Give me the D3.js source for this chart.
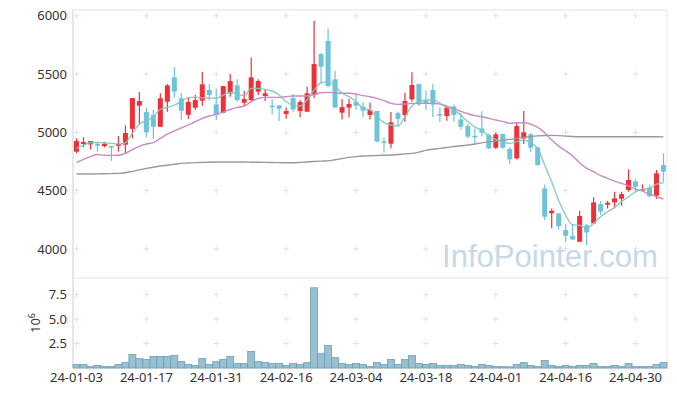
<!DOCTYPE html>
<html>
<head>
<meta charset="utf-8">
<script src="https://cdn.jsdelivr.net/npm/d3@7"></script>
<style>
body { margin: 0; background: #fff; }
svg { display: block; font-family: "Noto Sans", sans-serif; }
</style>
</head>
<body>
<div id="chart"></div>
<script>
// trading days shown on the chart
var dates = ["24-01-03","24-01-04","24-01-05","24-01-08","24-01-09","24-01-10","24-01-11","24-01-12","24-01-15","24-01-16",
  "24-01-17","24-01-18","24-01-19","24-01-22","24-01-23","24-01-24","24-01-25","24-01-26","24-01-29","24-01-30",
  "24-01-31","24-02-01","24-02-02","24-02-05","24-02-06","24-02-07","24-02-08","24-02-13","24-02-14","24-02-15",
  "24-02-16","24-02-19","24-02-20","24-02-21","24-02-22","24-02-23","24-02-26","24-02-27","24-02-28","24-02-29",
  "24-03-04","24-03-05","24-03-06","24-03-07","24-03-08","24-03-11","24-03-12","24-03-13","24-03-14","24-03-15",
  "24-03-18","24-03-19","24-03-20","24-03-21","24-03-22","24-03-25","24-03-26","24-03-27","24-03-28","24-03-29",
  "24-04-01","24-04-02","24-04-03","24-04-04","24-04-05","24-04-08","24-04-09","24-04-11","24-04-12","24-04-15",
  "24-04-16","24-04-17","24-04-18","24-04-19","24-04-22","24-04-23","24-04-24","24-04-25","24-04-26","24-04-29",
  "24-04-30","24-05-02","24-05-03","24-05-07","24-05-08"];

var opens = [4834,4900,4897,4902,4882,4882,4885,4894,5030,5229,
  5174,5148,5048,5263,5472,5292,5151,5211,5272,5363,
  5240,5169,5335,5403,5254,5277,5349,5312,5229,5231,
  5157,5295,5183,5177,5320,5672,5784,5455,5169,5212,
  5260,5220,5148,5183,4923,4903,5165,5148,5283,5415,
  5277,5363,5157,5140,5222,5111,5054,4970,5034,4977,
  4868,4985,4857,4777,4948,4983,4871,4519,4305,4305,
  4161,4110,4061,4202,4219,4385,4379,4399,4430,4505,
  4579,4502,4525,4456,4719];
var highs = [4949,4957,4925,4920,4920,4882,4968,5060,5294,5346,
  5214,5192,5335,5415,5558,5335,5297,5320,5520,5412,
  5377,5400,5500,5455,5357,5643,5455,5369,5283,5231,
  5214,5329,5277,5392,5958,5684,5892,5529,5283,5289,
  5329,5260,5254,5183,4955,5175,5177,5340,5515,5420,
  5360,5412,5214,5214,5240,5163,5071,5034,5180,4991,
  4997,4990,4877,5083,5183,4997,4877,4553,4347,4305,
  4213,4213,4327,4213,4442,4410,4410,4490,4490,4682,
  4599,4553,4553,4677,4820];
var lows = [4820,4871,4854,4834,4871,4755,4834,4825,4950,5065,
  4957,4948,5045,5177,5297,5111,5114,5192,5226,5277,
  5106,5163,5306,5263,5226,5263,5320,5269,5154,5097,
  5117,5177,5129,5177,5292,5420,5386,5212,5111,5129,
  5192,5129,5111,4920,4825,4863,5057,5090,5263,5226,
  5192,5132,5091,5100,5090,5025,4948,4908,4965,4857,
  4857,4860,4728,4768,4900,4831,4714,4247,4176,4167,
  4056,4076,4061,4033,4213,4290,4347,4347,4370,4490,
  4490,4496,4442,4428,4576];
var closes = [4925,4917,4925,4885,4902,4876,4902,4994,5294,5269,
  5003,5048,5292,5403,5349,5186,5260,5277,5412,5320,
  5148,5397,5440,5277,5286,5472,5440,5335,5226,5203,
  5183,5197,5260,5335,5586,5563,5397,5212,5217,5243,
  5229,5186,5192,4920,4919,5086,5116,5269,5406,5240,
  5252,5238,5152,5214,5150,5048,4963,4957,4997,4862,
  4983,4868,4768,5054,5000,4868,4719,4276,4327,4196,
  4113,4081,4282,4141,4399,4319,4396,4433,4470,4591,
  4533,4513,4453,4648,4662];

// moving averages
var ma5 = [4862,4891,4911,4914,4911,4905,4900,4911,4991,5071,
  5100,5134,5197,5214,5234,5263,5300,5300,5297,5295,
  5292,5320,5345,5326,5315,5377,5377,5369,5355,5320,
  5263,5234,5226,5277,5363,5426,5435,5397,5335,5306,
  5263,5206,5192,5134,5083,5063,5054,5134,5226,5263,
  5277,5283,5249,5214,5192,5148,5091,5048,5014,4971,
  4940,4920,4905,4920,4934,4911,4862,4720,4575,4415,
  4290,4205,4203,4176,4219,4276,4319,4356,4405,4448,
  4490,4511,4519,4556,4568];
var ma20 = [4742,4768,4791,4810,4804,4802,4803,4820,4851,4880,
  4900,4912,4948,4985,5012,5038,5065,5091,5120,5140,
  5155,5174,5196,5214,5226,5263,5292,5300,5300,5300,
  5306,5312,5312,5312,5326,5340,5343,5340,5335,5335,
  5329,5315,5306,5292,5272,5249,5240,5243,5249,5249,
  5249,5249,5243,5225,5205,5180,5160,5143,5134,5120,
  5106,5094,5077,5083,5083,5071,5043,4997,4934,4882,
  4842,4797,4739,4691,4662,4628,4605,4582,4562,4542,
  4513,4496,4470,4448,4428];
var ma60 = [4642,4642,4643,4644,4645,4646,4648,4653,4665,4678,
  4691,4700,4711,4718,4726,4734,4737,4740,4742,4744,
  4745,4745,4745,4745,4745,4744,4743,4742,4741,4740,
  4739,4739,4742,4746,4750,4753,4755,4765,4775,4785,
  4792,4797,4799,4801,4803,4805,4810,4815,4820,4830,
  4845,4855,4862,4870,4878,4885,4891,4900,4910,4918,
  4925,4932,4940,4948,4956,4964,4970,4973,4974,4972,
  4968,4964,4962,4962,4962,4962,4962,4962,4962,4962,
  4962,4962,4962,4962,4961];

// volume, millions of shares
var volumes = [0.35,0.35,0.14,0.25,0.14,0.14,0.35,0.58,1.37,0.96,
  0.86,1.17,1.17,1.17,1.27,0.65,0.35,0.25,0.96,0.35,
  0.65,0.86,1.17,0.45,0.45,1.68,0.65,0.55,0.45,0.45,
  0.25,0.45,0.35,0.55,8.2,1.47,2.29,1.06,0.45,0.35,
  0.45,0.35,0.14,0.55,0.35,0.86,0.35,0.86,1.27,0.45,
  0.35,0.45,0.25,0.25,0.25,0.35,0.25,0.14,0.35,0.25,
  0.14,0.14,0.12,0.35,0.55,0.25,0.14,0.76,0.25,0.14,
  0.25,0.14,0.25,0.25,0.45,0.14,0.14,0.25,0.14,0.45,
  0.14,0.14,0.14,0.35,0.55];

var priceTicks = [4000, 4500, 5000, 5500, 6000];
var volumeTicks = [2.5, 5.0, 7.5];

function draw() {
  var W = 677, H = 396;
  var pLeft = 73, pRight = 667, pTop = 10, pMid = 278, pBottom = 368;
  var upColor = "#ec3138", downColor = "#6cc3da";

  var svg = d3.select("#chart").append("svg")
    .attr("width", W).attr("height", H);

  var x = d3.scaleBand().domain(dates).range([pLeft, pRight]).padding(0);
  var y = d3.scaleLinear().domain([3750, 6050]).range([pMid, pTop]);
  var yv = d3.scaleLinear().domain([0, 9.2]).range([pBottom, pMid]);

  var xc = function(i) { return x(dates[i]) + x.bandwidth() / 2; };
  var xTickDates = dates.filter(function(d, i) { return i % 10 === 0; });

  // frame
  svg.append("rect").attr("x", pLeft).attr("y", pTop)
    .attr("width", pRight - pLeft).attr("height", pBottom - pTop)
    .attr("fill", "none").attr("stroke", "#e4e4e4");
  svg.append("line").attr("x1", pLeft).attr("x2", pRight)
    .attr("y1", pMid).attr("y2", pMid).attr("stroke", "#e4e4e4");
  svg.append("line").attr("x1", pLeft).attr("x2", pLeft)
    .attr("y1", pTop).attr("y2", pBottom).attr("stroke", "#dcdcdc");

  // little grid crosses
  var crosses = [];
  xTickDates.forEach(function(d) {
    var cx = x(d) + x.bandwidth() / 2;
    priceTicks.forEach(function(p) { crosses.push([cx, y(p)]); });
    volumeTicks.forEach(function(v) { crosses.push([cx, yv(v)]); });
  });
  var cg = svg.append("g").attr("stroke", "#e2e2e2").attr("stroke-width", 1);
  crosses.forEach(function(c) {
    cg.append("line").attr("x1", c[0] - 3).attr("x2", c[0] + 3).attr("y1", c[1]).attr("y2", c[1]);
    cg.append("line").attr("x1", c[0]).attr("x2", c[0]).attr("y1", c[1] - 3).attr("y2", c[1] + 3);
  });

  // watermark
  svg.append("text").attr("x", 442).attr("y", 267)
    .attr("font-family", "Liberation Sans, Arial, sans-serif")
    .attr("font-size", 31).attr("fill", "#c6d9e6")
    .attr("textLength", 216).attr("lengthAdjust", "spacingAndGlyphs")
    .text("InfoPointer.com");

  // candles
  var idx = d3.range(dates.length);
  var cw = 5;
  var candles = svg.append("g").selectAll("g").data(idx).enter().append("g");
  candles.append("line")
    .attr("x1", function(i) { return xc(i); })
    .attr("x2", function(i) { return xc(i); })
    .attr("y1", function(i) { return y(highs[i]); })
    .attr("y2", function(i) { return y(lows[i]); })
    .attr("stroke", function(i) { return closes[i] >= opens[i] ? upColor : downColor; })
    .attr("stroke-width", 1.2);
  candles.append("rect")
    .attr("x", function(i) { return xc(i) - cw / 2; })
    .attr("width", cw)
    .attr("y", function(i) { return y(Math.max(opens[i], closes[i])); })
    .attr("height", function(i) { return Math.max(1.5, Math.abs(y(opens[i]) - y(closes[i]))); })
    .attr("fill", function(i) { return closes[i] >= opens[i] ? upColor : downColor; });

  // moving averages
  var line = function(arr) {
    return d3.line().curve(d3.curveMonotoneX)
      .x(function(i) { return xc(i); })
      .y(function(i) { return y(arr[i]); })(idx);
  };
  svg.append("path").attr("d", line(ma60)).attr("fill", "none")
    .attr("stroke", "#9a9a9a").attr("stroke-width", 1.4);
  svg.append("path").attr("d", line(ma20)).attr("fill", "none")
    .attr("stroke", "#c98ac6").attr("stroke-width", 1.4);
  svg.append("path").attr("d", line(ma5)).attr("fill", "none")
    .attr("stroke", "#7fc7bb").attr("stroke-width", 1.4).attr("opacity", 0.9);

  // volume bars
  svg.append("g").selectAll("rect").data(idx).enter().append("rect")
    .attr("x", function(i) { return x(dates[i]); })
    .attr("width", x.bandwidth())
    .attr("y", function(i) { return yv(volumes[i]); })
    .attr("height", function(i) { return yv(0) - yv(volumes[i]); })
    .attr("fill", "#99c0d0").attr("stroke", "#6d9fb6").attr("stroke-width", 0.8);

  // axes
  var yAxis = svg.append("g").attr("transform", "translate(" + pLeft + ",0)")
    .call(d3.axisLeft(y).tickValues(priceTicks).tickFormat(d3.format("d")).tickSize(0).tickPadding(6));
  var vAxis = svg.append("g").attr("transform", "translate(" + pLeft + ",0)")
    .call(d3.axisLeft(yv).tickValues(volumeTicks).tickFormat(d3.format(".1f")).tickSize(0).tickPadding(6));
  var xAxis = svg.append("g").attr("transform", "translate(0," + pBottom + ")")
    .call(d3.axisBottom(x).tickValues(xTickDates).tickSize(0).tickPadding(5));

  [yAxis, vAxis, xAxis].forEach(function(a) {
    a.select(".domain").remove();
    a.selectAll("text").attr("font-family", "Noto Sans, sans-serif")
      .attr("font-size", 13).attr("fill", "#333");
  });

  // volume unit label
  var unit = svg.append("text")
    .attr("transform", "translate(40,323) rotate(-90)")
    .attr("text-anchor", "middle").attr("font-size", 13).attr("fill", "#333");
  unit.append("tspan").text("10");
  unit.append("tspan").attr("dy", -5).attr("font-size", 9).text("6");
}
draw();
</script>
</body>
</html>
